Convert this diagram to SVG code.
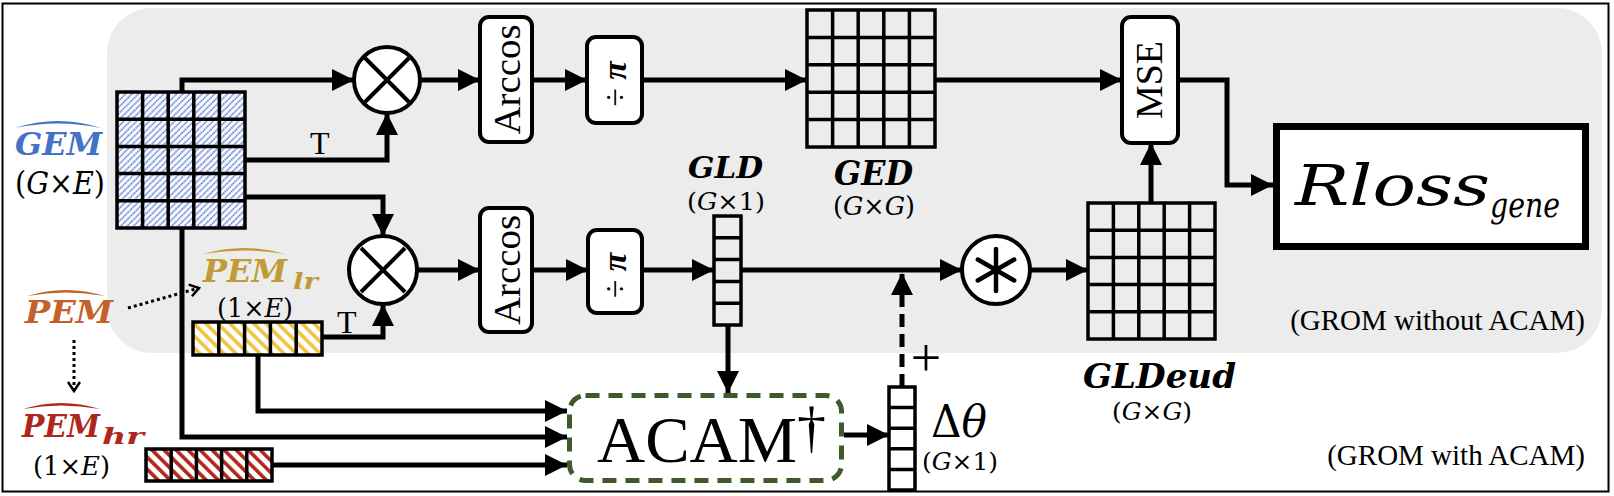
<svg xmlns="http://www.w3.org/2000/svg" width="1614" height="496" viewBox="0 0 1614 496">
<style>
.rm{font-family:"Liberation Serif","Times New Roman",serif;fill:#000}
.mt{font-family:"DejaVu Serif","Liberation Serif",serif;fill:#000}
.bi{font-family:"DejaVu Serif","Liberation Serif",serif;font-weight:bold;font-style:italic}
.it{font-style:italic}
.ln{fill:none;stroke:#000;stroke-width:5;stroke-linejoin:miter}
.grid{fill:none;stroke:#000;stroke-width:3.5}
.box{fill:#fff;stroke:#000;stroke-width:4}
.dot{fill:none;stroke:#000;stroke-width:3;stroke-dasharray:3 3}
</style>
<defs>
<marker id="ah" markerUnits="userSpaceOnUse" markerWidth="22" markerHeight="22" viewBox="0 0 22 22" refX="22" refY="11" orient="auto"><path d="M0,0 L22,11 L0,22 z" fill="#000"/></marker>
<marker id="oh" markerUnits="userSpaceOnUse" markerWidth="14" markerHeight="16" viewBox="0 0 14 16" refX="11" refY="8" orient="auto"><path d="M2,2 L11,8 L2,14" fill="none" stroke="#000" stroke-width="2.5"/></marker>
<pattern id="hBlue" width="4.5" height="4.5" patternUnits="userSpaceOnUse" patternTransform="rotate(45)"><rect width="4.5" height="4.5" fill="#fff"/><line x1="2.25" y1="0" x2="2.25" y2="4.5" stroke="#4a6fc7" stroke-width="1.6" stroke-dasharray="1.5 0.75"/></pattern>
<pattern id="hYel" width="8.5" height="8.5" patternUnits="userSpaceOnUse" patternTransform="rotate(-45)"><rect width="8.5" height="8.5" fill="#fff"/><rect x="0" y="0" width="3.6" height="8.5" fill="#f2c23e"/></pattern>
<pattern id="hRed" width="8.5" height="8.5" patternUnits="userSpaceOnUse" patternTransform="rotate(-45)"><rect width="8.5" height="8.5" fill="#fff"/><rect x="0" y="0" width="3.6" height="8.5" fill="#b3261b"/></pattern>
</defs>

<rect x="2.5" y="3.5" width="1606" height="488" fill="#fff" stroke="#000" stroke-width="2"/>
<rect id="grom-region" x="107" y="8" width="1495" height="345" rx="45" fill="#ececec"/>

<g id="connectors">
<path class="ln" d="M182,92 V80 H354" marker-end="url(#ah)"/>
<path class="ln" d="M245,160 H387 V113" marker-end="url(#ah)"/>
<path class="ln" d="M420,80 H480" marker-end="url(#ah)"/>
<path class="ln" d="M532,80 H587" marker-end="url(#ah)"/>
<path class="ln" d="M642,80 H807" marker-end="url(#ah)"/>
<path class="ln" d="M935,80 H1122" marker-end="url(#ah)"/>
<path class="ln" d="M1178,80 H1227 V185 H1273" marker-end="url(#ah)"/>
<path class="ln" d="M245,197 H383 V236" marker-end="url(#ah)"/>
<path class="ln" d="M322,337 H383 V304" marker-end="url(#ah)"/>
<path class="ln" d="M417,270 H480" marker-end="url(#ah)"/>
<path class="ln" d="M532,270 H588" marker-end="url(#ah)"/>
<path class="ln" d="M642,270 H714" marker-end="url(#ah)"/>
<path class="ln" d="M741,270 H962" marker-end="url(#ah)"/>
<path class="ln" d="M1030,270 H1088" marker-end="url(#ah)"/>
<path class="ln" d="M1151,203 V143" marker-end="url(#ah)"/>
<path class="ln" d="M728,325 V393" marker-end="url(#ah)"/>
<path class="ln" d="M182,228 V437 H567" marker-end="url(#ah)"/>
<path class="ln" d="M258,355 V411 H567" marker-end="url(#ah)"/>
<path class="ln" d="M272,465 H567" marker-end="url(#ah)"/>
<path class="ln" d="M844,435 H889" marker-end="url(#ah)"/>
<path class="ln" d="M902,387 V273" stroke-dasharray="13 7" marker-end="url(#ah)"/>
<path class="dot" d="M128,308 L199,288" marker-end="url(#oh)"/>
<path class="dot" d="M74,340 V391" marker-end="url(#oh)"/>
<text class="rm" x="310" y="154" font-size="32">T</text>
<text class="rm" x="337" y="333" font-size="32">T</text>
<text class="rm" x="926" y="376" font-size="54" text-anchor="middle">+</text>
</g>

<g id="gem">
<rect x="117" y="92" width="128" height="136" fill="url(#hBlue)"/>
<rect class="grid" x="117" y="92" width="128" height="136" stroke-width="4"/>
<path class="grid" stroke-width="4" d="M142.6,92V228M168.2,92V228M193.8,92V228M219.4,92V228M117,119.2H245M117,146.4H245M117,173.6H245M117,200.8H245"/>
<path d="M15,128 Q58,114 101,128 Q58,119 15,128Z" fill="#4472c4"/>
<text class="bi" x="15" y="155" font-size="32" fill="#4472c4" textLength="87" lengthAdjust="spacingAndGlyphs">GEM</text>
<text class="mt" x="15" y="194" font-size="31" textLength="90" lengthAdjust="spacingAndGlyphs">(<tspan class="it">G</tspan>×<tspan class="it">E</tspan>)</text>
</g>

<g id="pem">
<path d="M27,296 Q66,284 105,296 Q66,289 27,296Z" fill="#c5602a"/>
<text class="bi" x="25" y="323" font-size="32" fill="#c5602a" textLength="88" lengthAdjust="spacingAndGlyphs">PEM</text>
</g>

<g id="pem-lr">
<path d="M203,254 Q244,242 285,254 Q244,247 203,254Z" fill="#c19b36"/>
<text class="bi" x="203" y="282" font-size="31" fill="#c19b36" textLength="84" lengthAdjust="spacingAndGlyphs">PEM</text>
<text class="bi" x="293" y="289" font-size="22" fill="#c19b36" textLength="25" lengthAdjust="spacingAndGlyphs">lr</text>
<text class="mt" x="217" y="317" font-size="26" textLength="76" lengthAdjust="spacingAndGlyphs">(1×<tspan class="it">E</tspan>)</text>
<rect x="193" y="322" width="129" height="33" fill="url(#hYel)"/>
<rect class="grid" x="193" y="322" width="129" height="33"/>
<path class="grid" d="M218.8,322V355M244.6,322V355M270.4,322V355M296.2,322V355"/>
</g>

<g id="pem-hr">
<path d="M23,409 Q61,397 100,409 Q61,402 23,409Z" fill="#b0261c"/>
<text class="bi" x="22" y="437" font-size="31" fill="#b0261c" textLength="78" lengthAdjust="spacingAndGlyphs">PEM</text>
<text class="bi" x="102" y="444" font-size="22" fill="#b0261c" textLength="42" lengthAdjust="spacingAndGlyphs">hr</text>
<text class="mt" x="33" y="475" font-size="26" textLength="77" lengthAdjust="spacingAndGlyphs">(1×<tspan class="it">E</tspan>)</text>
<rect x="146" y="449" width="126" height="32" fill="url(#hRed)"/>
<rect class="grid" x="146" y="449" width="126" height="32"/>
<path class="grid" d="M171.2,449V481M196.4,449V481M221.6,449V481M246.8,449V481"/>
</g>

<g id="mult-top">
<circle cx="387" cy="80" r="33" fill="#fff" stroke="#000" stroke-width="4"/>
<path d="M365,58 L409,102 M409,58 L365,102" stroke="#000" stroke-width="4"/>
</g>
<g id="mult-bottom">
<circle cx="383" cy="270" r="34" fill="#fff" stroke="#000" stroke-width="4"/>
<path d="M361,248 L405,292 M405,248 L361,292" stroke="#000" stroke-width="4"/>
</g>

<g id="arccos-top">
<rect class="box" x="480" y="17" width="52" height="125" rx="9"/>
<text class="rm" transform="translate(506,79.5) rotate(-90)" x="0" y="14" font-size="38" text-anchor="middle" textLength="110" lengthAdjust="spacingAndGlyphs">Arccos</text>
</g>
<g id="arccos-bottom">
<rect class="box" x="480" y="208" width="52" height="124" rx="9"/>
<text class="rm" transform="translate(506,270) rotate(-90)" x="0" y="14" font-size="38" text-anchor="middle" textLength="110" lengthAdjust="spacingAndGlyphs">Arccos</text>
</g>

<g id="divpi-top">
<rect class="box" x="587" y="37" width="55" height="86" rx="9"/>
<text class="rm" transform="translate(614.5,80) rotate(-90)" x="-4" y="11" font-size="34" text-anchor="middle">÷ <tspan font-weight="bold" font-style="italic">π</tspan></text>
</g>
<g id="divpi-bottom">
<rect class="box" x="588" y="230" width="54" height="83" rx="9"/>
<text class="rm" transform="translate(615,271.5) rotate(-90)" x="-4" y="11" font-size="34" text-anchor="middle">÷ <tspan font-weight="bold" font-style="italic">π</tspan></text>
</g>

<g id="gld">
<text class="bi" x="688" y="178" font-size="30" textLength="75" lengthAdjust="spacingAndGlyphs">GLD</text>
<text class="mt" x="687" y="210" font-size="25" textLength="78" lengthAdjust="spacingAndGlyphs">(<tspan class="it">G</tspan>×1)</text>
<rect class="grid" x="714" y="216" width="27" height="109" fill="#e6e6e6"/>
<path class="grid" d="M714,237.8H741M714,259.6H741M714,281.4H741M714,303.2H741"/>
</g>

<g id="ged">
<rect class="grid" x="807" y="10" width="128" height="137"/>
<path class="grid" d="M832.6,10V147M858.2,10V147M883.8,10V147M909.4,10V147M807,37.4H935M807,64.8H935M807,92.2H935M807,119.6H935"/>
<text class="bi" x="834" y="185" font-size="33" textLength="79" lengthAdjust="spacingAndGlyphs">GED</text>
<text class="mt" x="833" y="215" font-size="26" textLength="82" lengthAdjust="spacingAndGlyphs">(<tspan class="it">G</tspan>×<tspan class="it">G</tspan>)</text>
</g>

<g id="conv">
<circle cx="996" cy="270" r="34" fill="#fff" stroke="#000" stroke-width="4"/>
<path d="M996,249 V291 M977.8,259.5 L1014.2,280.5 M1014.2,259.5 L977.8,280.5" stroke="#000" stroke-width="4.5" stroke-linecap="round"/>
</g>

<g id="gldeud">
<rect class="grid" x="1088" y="203" width="127" height="136"/>
<path class="grid" d="M1113.4,203V339M1138.8,203V339M1164.2,203V339M1189.6,203V339M1088,230.2H1215M1088,257.4H1215M1088,284.6H1215M1088,311.8H1215"/>
<text class="bi" x="1083" y="388" font-size="33" textLength="153" lengthAdjust="spacingAndGlyphs">GLDeud</text>
<text class="mt" x="1112" y="420" font-size="25" textLength="80" lengthAdjust="spacingAndGlyphs">(<tspan class="it">G</tspan>×<tspan class="it">G</tspan>)</text>
</g>

<g id="mse">
<rect class="box" x="1122" y="17" width="56" height="126" rx="9"/>
<text class="rm" transform="translate(1150,80) rotate(-90)" x="0" y="12" font-size="37" text-anchor="middle" textLength="78" lengthAdjust="spacingAndGlyphs">MSE</text>
</g>

<g id="rloss">
<rect x="1276.5" y="126.5" width="309" height="120" fill="#fff" stroke="#000" stroke-width="7"/>
<text class="mt it" x="1295" y="205" font-size="56" textLength="195" lengthAdjust="spacingAndGlyphs">Rloss</text>
<text class="mt it" x="1490" y="217" font-size="36" textLength="70" lengthAdjust="spacingAndGlyphs">gene</text>
</g>

<g id="acam">
<rect x="569.5" y="395.5" width="272" height="85" rx="16" fill="#fff" stroke="#3e5a2b" stroke-width="5" stroke-dasharray="14 9"/>
<text class="rm" x="597" y="462" font-size="66" textLength="200" lengthAdjust="spacingAndGlyphs">ACAM</text>
<text class="rm" x="797" y="446" font-size="58">†</text>
</g>

<g id="delta-theta">
<rect class="grid" x="889" y="387" width="26" height="103" fill="#e8e8e8"/>
<path class="grid" d="M889,407.6H915M889,428.2H915M889,448.8H915M889,469.4H915"/>
<text class="mt" x="931" y="437" font-size="44" textLength="56" lengthAdjust="spacingAndGlyphs">Δ<tspan class="it">θ</tspan></text>
<text class="mt" x="922" y="470" font-size="24" textLength="76" lengthAdjust="spacingAndGlyphs">(<tspan class="it">G</tspan>×1)</text>
</g>

<g id="captions">
<text class="rm" x="1585" y="330" font-size="29" text-anchor="end">(GROM without ACAM)</text>
<text class="rm" x="1585" y="465" font-size="29" text-anchor="end">(GROM with ACAM)</text>
</g>
</svg>
